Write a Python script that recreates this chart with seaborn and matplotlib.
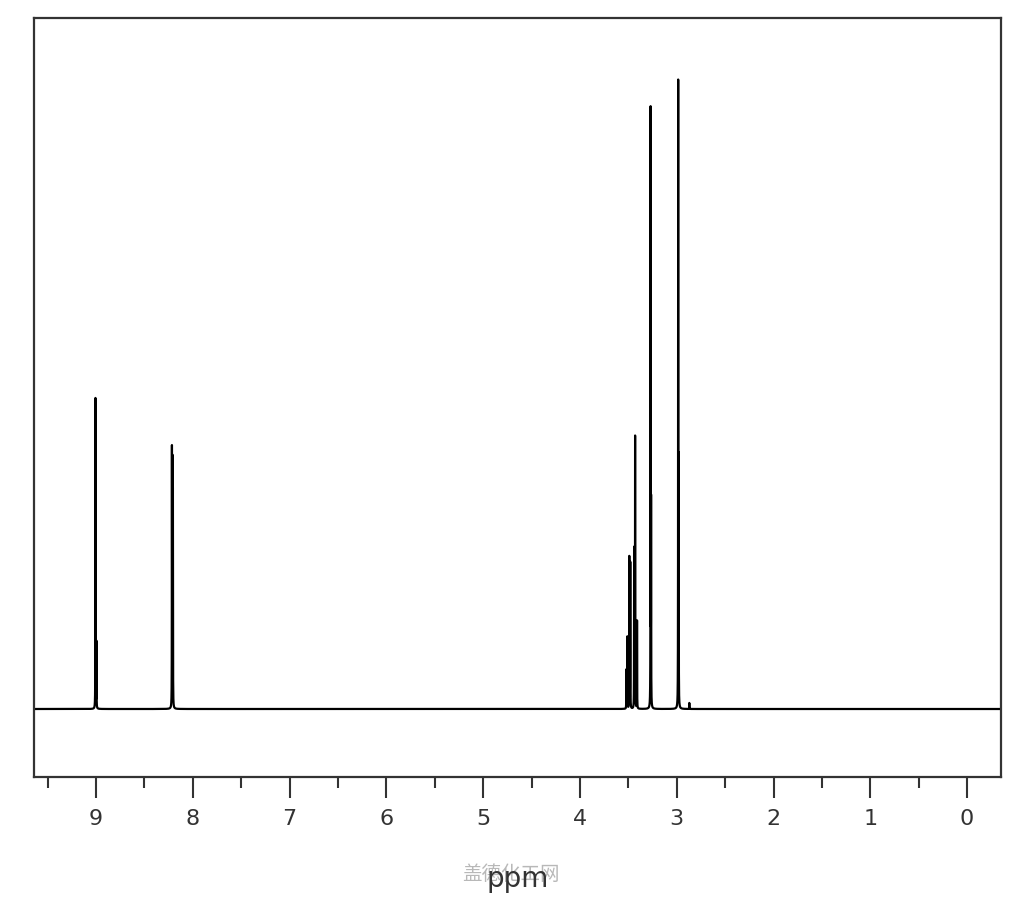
import numpy as np
import pandas as pd
import matplotlib
matplotlib.use("Agg")
import matplotlib.pyplot as plt
import seaborn as sns

# peak list (ppm, height above baseline)
peak_ppm = [9.005, 8.995, 8.215, 8.210, 8.205,
            3.520, 3.510, 3.490, 3.480, 3.440, 3.430, 3.410,
            3.270, 3.265, 2.985, 2.980, 2.870]
peak_height = [311, 66, 255, 240, 212,
               39, 72, 152, 146, 160, 272, 88,
               597, 196, 623, 238, 6]
peak_width = 0.0009  # half width, ppm

major_ticks = [9, 8, 7, 6, 5, 4, 3, 2, 1, 0]

# build the trace from the peak list (Lorentzian lines)
ppm = np.linspace(9.64, -0.35, 100001)
intensity = np.zeros_like(ppm)
for p, h in zip(peak_ppm, peak_height):
    intensity += h * peak_width**2 / (peak_width**2 + (ppm - p)**2)
spec = pd.DataFrame({"ppm": ppm, "intensity": intensity})

sns.set_style("white")
fig = plt.figure(figsize=(10.24, 9), dpi=100)
ax = fig.add_axes([34/1024, 1 - 777/900, 967/1024, 759/900])

sns.lineplot(data=spec, x="ppm", y="intensity", ax=ax, color="black",
             linewidth=1.6, estimator=None, sort=False)

ax.set_xlim(9.64, -0.35)
ax.set_ylim(-68, 691)
ax.set_yticks([])
ax.set_xticks(major_ticks)
ax.set_xticks(np.arange(9.5, -0.4, -1.0), minor=True)
ax.tick_params(axis="x", which="major", direction="out", length=15, width=1.5,
               color="#333333", labelsize=16, labelcolor="#333333", pad=8, bottom=True)
ax.tick_params(axis="x", which="minor", direction="out", length=8, width=1.5,
               color="#333333", bottom=True)
for s in ax.spines.values():
    s.set_color("#333333")
    s.set_linewidth(1.6)

ax.set_xlabel("ppm", fontsize=20, color="#333333", labelpad=26)
ax.set_ylabel("")

# faint site watermark behind the axis label
fig.text(511/1024, 1 - 874/900, "盖德化工网", ha="center", va="center",
         fontsize=14, color="#b8b8b8", family=["Noto Sans CJK SC", "DejaVu Sans"],
         zorder=-1)

fig.savefig("out.png", dpi=100)
